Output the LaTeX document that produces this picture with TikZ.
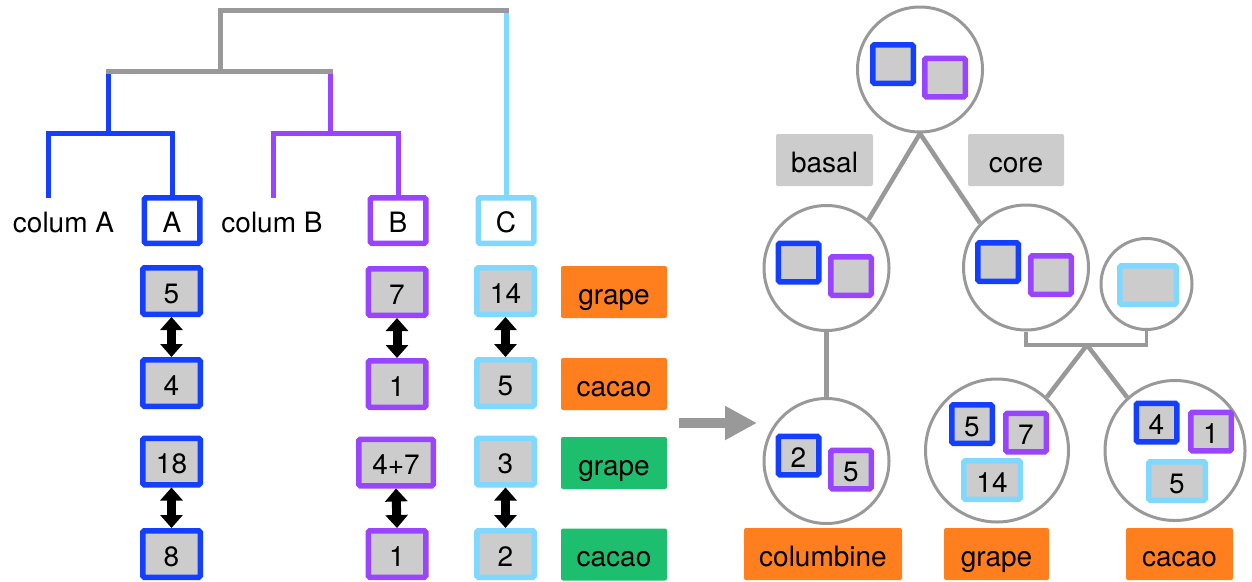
\documentclass[tikz,border=0pt]{standalone}
\usepackage{fontspec}
\setmainfont{TeX Gyre Heros}
\usetikzlibrary{arrows.meta}
\definecolor{cblue}{RGB}{21,63,255}
\definecolor{cpurple}{RGB}{153,69,255}
\definecolor{ccyan}{RGB}{128,216,255}
\definecolor{boxgray}{RGB}{204,204,204}
\definecolor{lgray}{RGB}{153,153,153}
\definecolor{corange}{RGB}{255,127,31}
\definecolor{cgreen}{RGB}{29,191,111}
\begin{document}
\begin{tikzpicture}[x=1pt,y=-1pt,
  lbl/.style={font=\fontsize{28}{32}\selectfont, text height=24.5pt, text depth=0pt, inner sep=0pt},
  hbox/.style={lbl, draw, fill=white, line width=5.5pt, minimum width=55.5pt, minimum height=45.5pt, rounded corners=1.5pt},
  dbox/.style={lbl, draw, fill=boxgray, line width=5.5pt, minimum width=57.5pt, minimum height=46.5pt, rounded corners=1.5pt},
  sbox/.style={lbl, draw, fill=boxgray, line width=5.5pt, minimum width=40.5pt, minimum height=38.5pt, rounded corners=1.5pt},
  tag/.style={lbl, minimum width=106pt, minimum height=52pt, rounded corners=2pt},
  tree/.style={line width=5pt, line cap=rect, line join=miter},
  dbl/.style={line width=9pt, black, {Triangle[length=13pt,width=22pt]}-{Triangle[length=13pt,width=22pt]}},
  circ/.style={circle, draw=lgray, line width=3pt, fill=white, inner sep=0pt},
  conn/.style={lgray, line width=4.5pt},
  brk/.style={lgray, line width=3.5pt, line join=miter}
]
\useasboundingbox (0,0) rectangle (1252,581);
\fill[white] (0,0) rectangle (1252,581);

% ---------- left dendrogram ----------
\node[lbl] (colA) at (63.5,220.5) {colum A};
\node[hbox,draw=cblue] (hA) at (172,220.5) {A};
\node[lbl] (colB) at (272,220.5) {colum B};
\node[hbox,draw=cpurple] (hB) at (398,220.5) {B};
\node[hbox,draw=ccyan] (hC) at (506,220.5) {C};

\coordinate (cAend) at (48,195);
\coordinate (cBend) at (273,195);
\coordinate (jA) at (108,133);
\coordinate (jB) at (330,133);
\coordinate (jAB) at (220,71);
\coordinate (jRoot) at (220,10);

\draw[tree,cblue] (cAend) |- (jA) -| (hA.north);
\draw[tree,cblue] (jA) -- (jA |- jAB);
\draw[tree,cpurple] (cBend) |- (jB) -| (hB.north);
\draw[tree,cpurple] (jB) -- (jB |- jAB);
\draw[tree,ccyan] (jRoot -| hC.north) -- (hC.north);
\draw[tree,lgray] (jA |- jAB) -- (jB |- jAB);
\draw[tree,lgray] (jAB) -- (jRoot) -- (jRoot -| hC.north);

% ---------- data boxes ----------
\node[dbox,draw=cblue] (a1) at (171.5,291) {5};
\node[dbox,draw=cblue] (a2) at (171.5,383) {4};
\node[dbox,draw=cblue] (a3) at (171.5,461.5) {18};
\node[dbox,draw=cblue] (a4) at (171.5,554) {8};
\node[dbox,draw=cpurple] (b1) at (397,292) {7};
\node[dbox,draw=cpurple] (b2) at (397,384) {1};
\node[dbox,draw=cpurple,minimum width=74.5pt] (b3) at (396,462.5) {4+7};
\node[dbox,draw=cpurple] (b4) at (397,554) {1};
\node[dbox,draw=ccyan] (c1) at (505.5,291) {14};
\node[dbox,draw=ccyan] (c2) at (505.5,383) {5};
\node[dbox,draw=ccyan] (c3) at (505.5,461.5) {3};
\node[dbox,draw=ccyan] (c4) at (505.5,554) {2};

\node[tag,fill=corange] (l1) at (614,292) {grape};
\node[tag,fill=corange] (l2) at (614,384) {cacao};
\node[tag,fill=cgreen] (l3) at (614,463) {grape};
\node[tag,fill=cgreen] (l4) at (614,554.5) {cacao};

\draw[dbl] (a1.south) -- (a2.north);
\draw[dbl] (a3.south) -- (a4.north);
\draw[dbl] (b1.south) -- (b2.north);
\draw[dbl] (b3.south) -- (b4.north);
\draw[dbl] (c1.south) -- (c2.north);
\draw[dbl] (c3.south) -- (c4.north);

% ---------- big arrow ----------
\coordinate (ga) at (679,423);
\coordinate (gb) at (757,423);
\draw[lgray, line width=10pt, -{Triangle[length=32pt,width=32pt]}] (ga) -- (gb);

% ---------- right tree ----------
\node[circ,minimum size=125pt] (T) at (920,69.5) {};
\node[sbox,draw=cblue] (T1) at (893,64) {};
\node[sbox,draw=cpurple] (T2) at (945,77.5) {};

\node[tag,fill=boxgray,minimum width=97pt] (basal) at (824.5,160) {basal};
\node[tag,fill=boxgray,minimum width=96pt] (core) at (1016,160) {core};

\node[circ,minimum size=125pt] (L) at (826.5,268) {};
\node[sbox,draw=cblue] (L1) at (798.5,262.5) {};
\node[sbox,draw=cpurple] (L2) at (851,276) {};

\node[circ,minimum size=125pt] (R) at (1026,267.5) {};
\node[sbox,draw=cblue] (R1) at (998,262) {};
\node[sbox,draw=cpurple] (R2) at (1051,275) {};

\node[circ,minimum size=91pt] (S) at (1146.5,284) {};
\node[sbox,draw=ccyan,minimum width=56.5pt] (S1) at (1148,285) {};

\node[circ,minimum size=125pt] (BL) at (826.5,461) {};
\node[sbox,draw=cblue] (BL1) at (798.5,455.5) {2};
\node[sbox,draw=cpurple] (BL2) at (851,469.5) {5};
\node[tag,fill=corange,minimum width=158pt] (colm) at (823,554) {columbine};

\node[circ,minimum size=143pt] (G) at (997,450.5) {};
\node[sbox,draw=cblue] (G1) at (972,424) {5};
\node[sbox,draw=cpurple] (G2) at (1026,432.5) {7};
\node[sbox,draw=ccyan,minimum width=56.5pt] (G3) at (992,480) {14};
\node[tag,fill=corange,minimum width=105pt] (gl) at (996.5,554) {grape};

\node[circ,minimum size=140pt] (C) at (1175,450.5) {};
\node[sbox,draw=cblue] (C1) at (1156.5,422.5) {4};
\node[sbox,draw=cpurple] (C2) at (1211,431.5) {1};
\node[sbox,draw=ccyan,minimum width=56.5pt] (C3) at (1177,481) {5};
\node[tag,fill=corange,minimum width=107pt] (cl) at (1179.5,554) {cacao};

\draw[conn] (T.south) -- (L.49);
\draw[conn] (T.south) -- (R.136);
\draw[conn] (L.south) -- (BL.north);
\coordinate (brM) at (1087,345);
\draw[brk] (R.south) |- (brM) -| (S.south);
\draw[conn] (brM) -- (G.47);
\draw[conn] (brM) -- (C.132);
\end{tikzpicture}
\end{document}
